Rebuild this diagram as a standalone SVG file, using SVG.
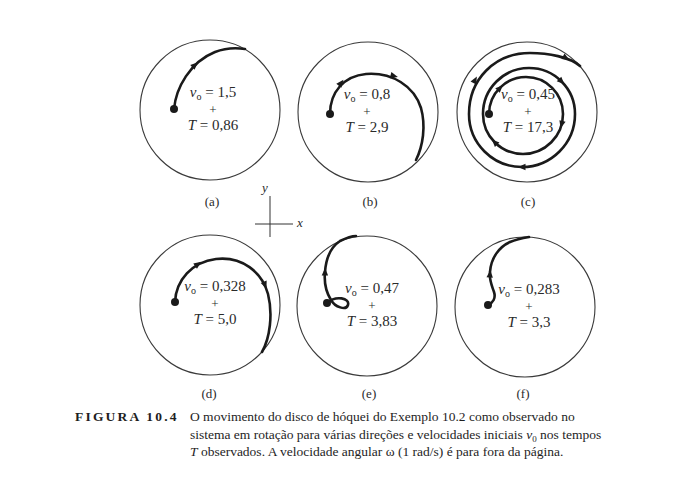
<svg xmlns="http://www.w3.org/2000/svg" xmlns:xlink="http://www.w3.org/1999/xlink" width="700" height="480" viewBox="0 0 700 480">
<style>
.disk{fill:none;stroke:#3a3a3a;stroke-width:1.1}
.traj{fill:none;stroke:#1a1a1a;stroke-width:2.6;stroke-linecap:round;stroke-linejoin:round}
.dot{fill:#1a1a1a}
.eq{font-family:"Liberation Serif","Times New Roman",serif;font-size:15px;fill:#2a2a2a;text-anchor:middle}
.sub{font-size:10px}
.pl{font-size:13px}
.lab{font-family:"Liberation Serif","Times New Roman",serif;font-size:13px;fill:#2a2a2a;text-anchor:middle}
.cap{font-family:"Liberation Serif","Times New Roman",serif;font-size:13.5px;fill:#1e1e1e}
.axis{stroke:#333;stroke-width:1;fill:none}
.it{font-style:italic}
</style>
<defs>
<path id="ah" d="M4,0 L-3.5,-3.2 L-3.5,3.2 Z" fill="#1a1a1a"/>
</defs>
<rect width="700" height="480" fill="#ffffff"/>

<g id="panel-a">
<circle class="disk" cx="210" cy="110" r="70"/>
<path class="traj" d="M174,109 C176,88 190,62 215,52 C228,47 238,48 245,49"/>
<use xlink:href="#ah" href="#ah" transform="translate(195,65) rotate(-42)"/>
<circle class="dot" cx="174" cy="109" r="4"/>
<text class="eq" x="213" y="97"><tspan class="it">v</tspan><tspan class="sub" dy="2.5">o</tspan><tspan dy="-2.5"> = 1,5</tspan><tspan class="pl" x="213" dy="16.5">+</tspan><tspan x="213" dy="16.5"><tspan class="it">T</tspan> = 0,86</tspan></text>
<text class="lab" x="212" y="206">(a)</text>
</g>

<g id="panel-b">
<circle class="disk" cx="368" cy="112" r="70"/>
<path class="traj" d="M330,114 C330,92 344,76 366,74 C392,72 414,86 421,108 C426,126 423,146 416,160"/>
<use xlink:href="#ah" href="#ah" transform="translate(341,83) rotate(-52)"/>
<use xlink:href="#ah" href="#ah" transform="translate(394,76) rotate(14)"/>
<circle class="dot" cx="330" cy="114" r="4"/>
<text class="eq" x="367" y="99"><tspan class="it">v</tspan><tspan class="sub" dy="2.5">o</tspan><tspan dy="-2.5"> = 0,8</tspan><tspan class="pl" x="367" dy="16.5">+</tspan><tspan x="367" dy="16.5"><tspan class="it">T</tspan> = 2,9</tspan></text>
<text class="lab" x="370" y="206">(b)</text>
</g>

<g id="panel-c">
<circle class="disk" cx="527" cy="112" r="70"/>
<path class="traj" d="M489,114 A37,37 0 0 1 563,114 A40,40 0 0 1 483,114 A46,46 0 0 1 575,114 A53,53 0 0 1 469,114 C469,80 494,53 530,53 C548,53 570,57 580,66"/>
<use xlink:href="#ah" href="#ah" transform="translate(500,88) rotate(-45)"/>
<use xlink:href="#ah" href="#ah" transform="translate(561.6,124.4) rotate(105)"/>
<use xlink:href="#ah" href="#ah" transform="translate(494.7,142.3) rotate(225)"/>
<use xlink:href="#ah" href="#ah" transform="translate(561.5,81.5) rotate(45)"/>
<use xlink:href="#ah" href="#ah" transform="translate(522,167) rotate(180)"/>
<use xlink:href="#ah" href="#ah" transform="translate(475,80) rotate(-62)"/>
<use xlink:href="#ah" href="#ah" transform="translate(566,58) rotate(30)"/>
<circle class="dot" cx="489" cy="114" r="4"/>
<text class="eq" x="528" y="99"><tspan class="it">v</tspan><tspan class="sub" dy="2.5">o</tspan><tspan dy="-2.5"> = 0,45</tspan><tspan class="pl" x="528" dy="16.5">+</tspan><tspan x="528" dy="16.5"><tspan class="it">T</tspan> = 17,3</tspan></text>
<text class="lab" x="528" y="206">(c)</text>
</g>

<g id="panel-d">
<circle class="disk" cx="210" cy="305" r="70"/>
<path class="traj" d="M175,302 C176,280 192,262 216,259 C242,256 262,272 268,294 C273,314 270,338 262,352"/>
<use xlink:href="#ah" href="#ah" transform="translate(198,264) rotate(-35)"/>
<use xlink:href="#ah" href="#ah" transform="translate(265,285) rotate(68)"/>
<circle class="dot" cx="175" cy="302" r="4"/>
<text class="eq" x="215" y="291"><tspan class="it">v</tspan><tspan class="sub" dy="2.5">o</tspan><tspan dy="-2.5"> = 0,328</tspan><tspan class="pl" x="215" dy="16.5">+</tspan><tspan x="215" dy="16.5"><tspan class="it">T</tspan> = 5,0</tspan></text>
<text class="lab" x="209" y="398">(d)</text>
</g>

<g id="panel-e">
<circle class="disk" cx="367" cy="306" r="70"/>
<path class="traj" d="M327,303 C336,295 350,298 348,305 C346,311 335,307 331,300 C326,292 324,282 325,272 C326,258 331,247 340,241 C346,238 351,236 356,236"/>
<use xlink:href="#ah" href="#ah" transform="translate(325,272) rotate(-88)"/>
<circle class="dot" cx="327" cy="303" r="4"/>
<text class="eq" x="372" y="293"><tspan class="it">v</tspan><tspan class="sub" dy="2.5">o</tspan><tspan dy="-2.5"> = 0,47</tspan><tspan class="pl" x="372" dy="16.5">+</tspan><tspan x="372" dy="16.5"><tspan class="it">T</tspan> = 3,83</tspan></text>
<text class="lab" x="369" y="398">(e)</text>
</g>

<g id="panel-f">
<circle class="disk" cx="525" cy="307" r="70"/>
<path class="traj" d="M488,305 C493,303 496,298 494,292 C492,286 489,280 490,272 C491,258 499,247 510,242 C517,239 523,238 529,237"/>
<use xlink:href="#ah" href="#ah" transform="translate(490,274) rotate(-85)"/>
<circle class="dot" cx="488" cy="305" r="4"/>
<text class="eq" x="529" y="294"><tspan class="it">v</tspan><tspan class="sub" dy="2.5">o</tspan><tspan dy="-2.5"> = 0,283</tspan><tspan class="pl" x="529" dy="16.5">+</tspan><tspan x="529" dy="16.5"><tspan class="it">T</tspan> = 3,3</tspan></text>
<text class="lab" x="523" y="398">(f)</text>
</g>

<g id="axes">
<line class="axis" x1="270" y1="196" x2="270" y2="237"/>
<line class="axis" x1="255" y1="224" x2="293" y2="224"/>
<text class="lab it" x="265" y="192">y</text>
<text class="lab it" x="300" y="227">x</text>
</g>

<g id="caption">
<text class="cap" x="75" y="421" font-weight="bold" font-size="14" letter-spacing="2.2">FIGURA 10.4</text>
<text class="cap" x="190" y="421">O movimento do disco de hóquei do Exemplo 10.2 como observado no</text>
<text class="cap" x="190" y="438.5">sistema em rotação para várias direções e velocidades iniciais <tspan class="it">v</tspan><tspan font-size="9" dy="3">0</tspan><tspan dy="-3"> nos tempos</tspan></text>
<text class="cap" x="190" y="456"><tspan class="it">T</tspan> observados. A velocidade angular ω (1 rad/s) é para fora da página.</text>
</g>
</svg>
